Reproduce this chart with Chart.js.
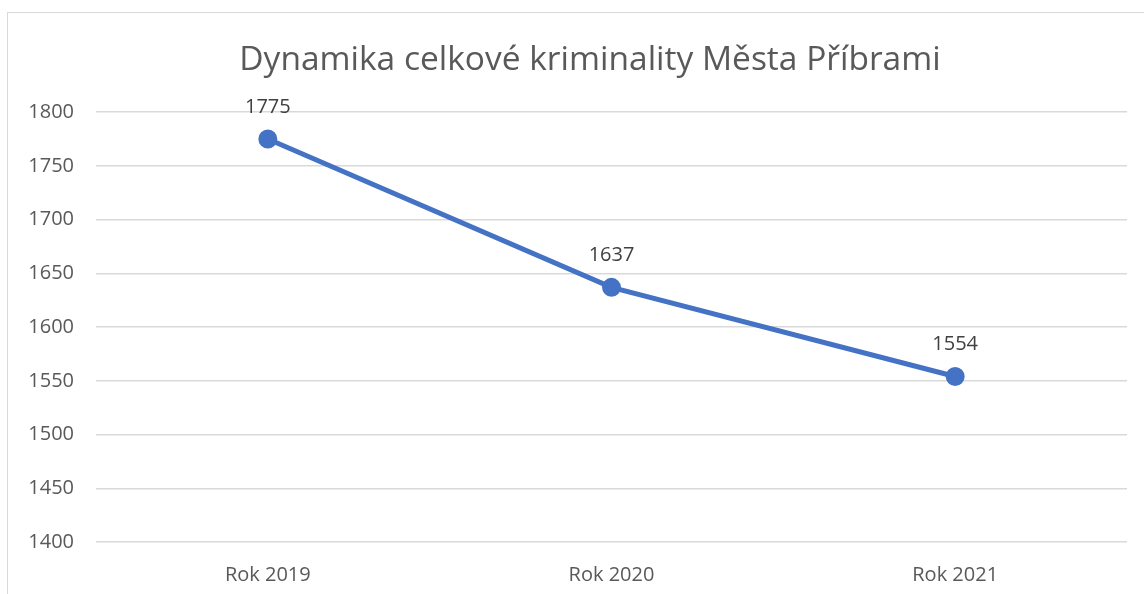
<!DOCTYPE html>
<html>
<head>
<meta charset="utf-8">
<script src="https://cdn.jsdelivr.net/npm/chart.js@4.4.0/dist/chart.umd.min.js"></script>
<style>
  html, body { margin: 0; padding: 0; background: #fff; overflow: hidden; }
  body { width: 1144px; height: 594px; position: relative; }
  #frame {
    position: absolute; left: 7px; top: 12px;
    width: 1164px; height: 600px;
    border: 1px solid #d9d9d9; background: #fff;
  }
</style>
</head>
<body>
<div id="frame"><canvas id="crime-chart" width="1164" height="600"></canvas></div>
<script>
const chartTitle = "Dynamika celkové kriminality Města Příbrami";
const categories = ["Rok 2019", "Rok 2020", "Rok 2021"];
const values = [1775, 1637, 1554];
const yMin = 1400;
const yMax = 1800;
const yStep = 50;

const fontFamily = "'Open Sans', 'Noto Sans', sans-serif";

// labels above the points, like Excel data labels
const pointLabels = {
  id: "pointLabels",
  afterDatasetsDraw(chart) {
    const ctx = chart.ctx;
    const meta = chart.getDatasetMeta(0);
    ctx.save();
    ctx.font = "20px " + fontFamily;
    ctx.fillStyle = "#404040";
    ctx.textAlign = "center";
    ctx.textBaseline = "middle";
    meta.data.forEach(function (pt, i) {
      ctx.fillText(String(values[i]), pt.x, pt.y - 32);
    });
    ctx.restore();
  }
};

const chart = new Chart(document.getElementById("crime-chart"), {
  type: "line",
  data: {
    labels: categories,
    datasets: [
      {
        label: chartTitle,
        data: values,
        borderColor: "#4472c4",
        backgroundColor: "#4472c4",
        borderWidth: 5,
        pointRadius: 7,
        pointHoverRadius: 7,
        tension: 0
      }
    ]
  },
  options: {
    responsive: false,
    animation: false,
    layout: {
      padding: { left: 0, right: 0, top: 0, bottom: 5 }
    },
    plugins: {
      legend: { display: false },
      tooltip: { enabled: false },
      title: {
        display: true,
        text: chartTitle,
        color: "#595959",
        font: { family: fontFamily, size: 33.5, weight: "normal" },
        padding: { top: 27, bottom: 32 }
      }
    },
    scales: {
      x: {
        offset: true,
        grid: { display: false, drawTicks: false },
        border: { display: false },
        ticks: {
          color: "#595959",
          font: { family: fontFamily, size: 20 },
          padding: 21
        }
      },
      y: {
        min: yMin,
        max: yMax,
        grid: { color: "#d9d9d9", lineWidth: 1.5, drawTicks: false },
        border: { display: false },
        ticks: {
          stepSize: yStep,
          color: "#595959",
          font: { family: fontFamily, size: 20 },
          padding: 22,
          callback: function (value) {
            return String(value);
          }
        },
        afterFit(scale) {
          scale.width = 88;
        }
      },
      // empty right axis, only to leave the blank strip on the right
      yRight: {
        position: "right",
        min: yMin,
        max: yMax,
        grid: { display: false, drawTicks: false },
        border: { display: false },
        ticks: { display: false },
        afterFit(scale) {
          scale.width = 45;
        }
      }
    }
  },
  plugins: [pointLabels]
});
</script>
</body>
</html>
